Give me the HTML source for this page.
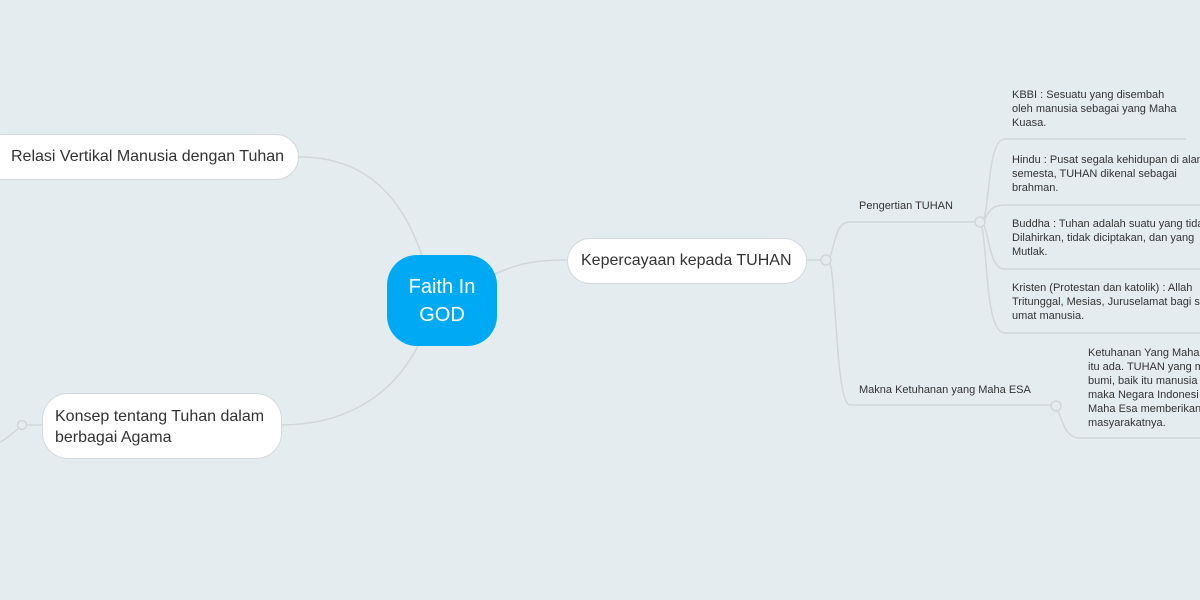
<!DOCTYPE html>
<html><head><style>
body{margin:0;width:1200px;height:600px;overflow:hidden;background:#e5ecf0;font-family:"Liberation Sans",sans-serif;}
svg{position:absolute;left:0;top:0}
.t{position:absolute;color:#333;font-size:11px;line-height:14px;white-space:nowrap}
.n{position:absolute;background:#fff;border:1.5px solid #d4d9dc;border-radius:24px;box-sizing:border-box;color:#333;font-size:16px}
</style></head><body>
<svg width="1200" height="600" fill="none" stroke="#d0d6da" stroke-width="1.5">
<path d="M422 256 C400 190 360 157 299 157"/>
<path d="M418 346 C390 400 340 425 281 425"/>
<path d="M42 425 H27 M18 429 C10 435 5 440 0 442"/>
<circle cx="22" cy="425" r="4.5" fill="#e5ecf0"/>
<path d="M493 275 C520 262 540 260 567 260"/>
<path d="M807 260 H821"/>
<circle cx="826" cy="260" r="5" fill="#e5ecf0"/>
<path d="M830 257 C836 240 836 222 850 222 H975"/>
<path d="M830 264 C836 280 836 405 850 405 H1051"/>
<circle cx="980" cy="222" r="5" fill="#e5ecf0"/>
<circle cx="1056" cy="406" r="5" fill="#e5ecf0"/>
<path d="M984 218 C990 200 988 139 1005 139 H1186"/>
<path d="M984 220 C990 210 992 205 1005 205 H1200"/>
<path d="M984 225 C990 240 990 269 1005 269 H1200"/>
<path d="M982 227 C988 260 986 333 1005 333 H1200"/>
<path d="M1058 411 C1064 425 1066 438 1080 438 H1200"/>
</svg>
<div style="position:absolute;left:387px;top:255px;width:110px;height:91px;background:#00a9f4;border-radius:30px;color:#fff;font-size:20px;line-height:28px;text-align:center;padding-top:18px;box-sizing:border-box">Faith In<br>GOD</div>
<div class="n" style="left:-20px;top:134px;width:319px;height:46px;padding:13px 0 0 30px">Relasi Vertikal Manusia dengan Tuhan</div>
<div class="n" style="left:42px;top:393px;width:240px;height:66px;padding:12px 0 0 12px;line-height:21px;border-radius:26px">Konsep tentang Tuhan dalam<br>berbagai Agama</div>
<div class="n" style="left:567px;top:238px;width:240px;height:46px;padding:13px 0 0 13px">Kepercayaan kepada TUHAN</div>
<div class="t" style="left:859px;top:199px">Pengertian TUHAN</div>
<div class="t" style="left:859px;top:383px">Makna Ketuhanan yang Maha ESA</div>
<div class="t" style="left:1012px;top:88px">KBBI : Sesuatu yang disembah<br>oleh manusia sebagai yang Maha<br>Kuasa.</div>
<div class="t" style="left:1012px;top:153px">Hindu : Pusat segala kehidupan di alam<br>semesta, TUHAN dikenal sebagai<br>brahman.</div>
<div class="t" style="left:1012px;top:217px">Buddha : Tuhan adalah suatu yang tidak<br>Dilahirkan, tidak diciptakan, dan yang<br>Mutlak.</div>
<div class="t" style="left:1012px;top:281px">Kristen (Protestan dan katolik) : Allah<br>Tritunggal, Mesias, Juruselamat bagi s<br>umat manusia.</div>
<div class="t" style="left:1088px;top:346px">Ketuhanan Yang Maha<br>itu ada. TUHAN yang m<br>bumi, baik itu manusia<br>maka Negara Indonesi<br>Maha Esa memberikan<br>masyarakatnya.</div>
</body></html>
